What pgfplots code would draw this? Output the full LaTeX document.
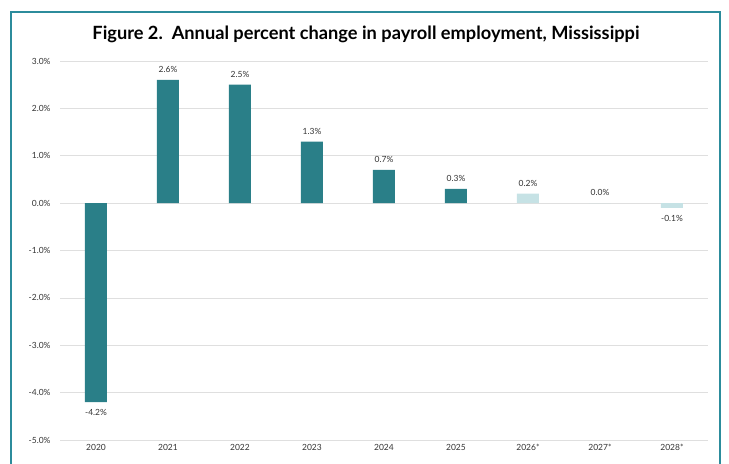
\documentclass[border=0pt]{standalone}
\usepackage{pgfplots}
\pgfplotsset{compat=1.18}
\usepackage{fontspec}
\setmainfont{Lato}
\definecolor{darkteal}{HTML}{2A7F88}
\definecolor{lightteal}{HTML}{C6E2E5}
\definecolor{frameteal}{HTML}{2C8C9C}
\begin{document}
\begin{tikzpicture}
\begin{axis}[
  at={(60bp,24bp)}, anchor=south west,
  scale only axis, width=648bp, height=379bp,
  ymin=-5, ymax=3, xmin=-0.5, xmax=8.5,
  ytick={-5,-4,-3,-2,-1,0,1,2,3},
  yticklabels={-5.0\%,-4.0\%,-3.0\%,-2.0\%,-1.0\%,0.0\%,1.0\%,2.0\%,3.0\%},
  xtick={0,1,2,3,4,5,6,7,8},
  xticklabels={2020,2021,2022,2023,2024,2025,2026*,2027*,2028*},
  axis line style={draw=none},
  major tick length=0pt,
  ymajorgrids, grid style={gray!25, line width=0.6pt},
  tick label style={font=\fontsize{8.5}{10}\selectfont, text=black!80},
  yticklabel style={xshift=-6bp},
  xticklabel style={yshift=-1bp},
  ybar, bar width=22bp,
  nodes near coords={\pgfmathprintnumber[assume math mode=true,fixed,fixed zerofill,precision=1]{\pgfplotspointmeta}\%},
  nodes near coords style={font=\fontsize{8.5}{10}\selectfont, text=black!80, inner sep=7bp},
  clip=false,
]
\addplot[fill=darkteal, draw=none, bar shift=0pt] coordinates {(0,-4.2) (1,2.6) (2,2.5) (3,1.3) (4,0.7) (5,0.3)};
\addplot[fill=lightteal, draw=none, bar shift=0pt] coordinates {(6,0.2) (7,0.0) (8,-0.1)};
\end{axis}
\node[font=\bfseries\fontsize{18.3}{21}\selectfont] at (366bp,430bp) {Figure 2.\ \ Annual percent change in payroll employment, Mississippi};
\draw[frameteal, line width=2.5bp] (11bp,-20bp) -- (11bp,452bp) -- (720bp,452bp) -- (720bp,-20bp);
\pgfresetboundingbox
\useasboundingbox (0,0) rectangle (729bp,464bp);
\end{tikzpicture}
\end{document}
